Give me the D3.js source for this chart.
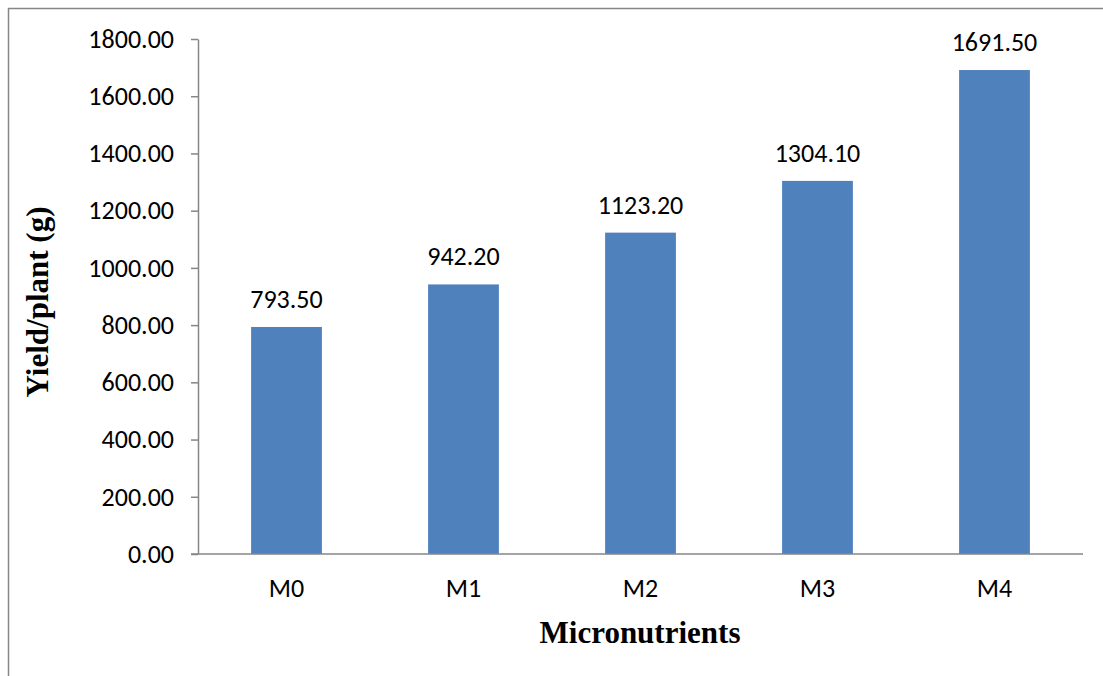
<!DOCTYPE html>
<html>
<head>
<meta charset="utf-8">
<script src="https://cdn.jsdelivr.net/npm/d3@7"></script>
<style>
  html, body { margin: 0; padding: 0; background: #fff; }
  svg { display: block; }
</style>
</head>
<body>
<svg id="chart" width="1103" height="676"></svg>
<script>
// Yield per plant for each micronutrient treatment
const categories = ["M0", "M1", "M2", "M3", "M4"];
const yieldValues = [793.50, 942.20, 1123.20, 1304.10, 1691.50];
const yTicks = [0, 200, 400, 600, 800, 1000, 1200, 1400, 1600, 1800];

const svg = d3.select("#chart");
const W = 1103, H = 676;
const plot = { left: 198, right: 1083, top: 39, bottom: 554 };
const labelFont = "Carlito, Calibri, Lato, 'Open Sans', sans-serif";
const titleFont = "'Liberation Serif', 'Times New Roman', serif";
const axisGrey = "#868686";
const fmt = d3.format(".2f");

// outer chart frame
svg.append("rect")
  .attr("x", 8.5).attr("y", 8.5)
  .attr("width", W + 20).attr("height", H + 20)
  .attr("fill", "none").attr("stroke", axisGrey).attr("stroke-width", 1.5);

const x = d3.scaleBand()
  .domain(categories)
  .range([plot.left, plot.right])
  .paddingInner(0.6)
  .paddingOuter(0.3);

const y = d3.scaleLinear()
  .domain([0, 1800])
  .range([plot.bottom, plot.top]);

// bars
svg.append("g").selectAll("rect")
  .data(categories)
  .join("rect")
  .attr("x", d => x(d))
  .attr("width", x.bandwidth())
  .attr("y", (d, i) => y(yieldValues[i]))
  .attr("height", (d, i) => y(0) - y(yieldValues[i]))
  .attr("fill", "#4F81BD");

// y axis
const yAxis = svg.append("g")
  .attr("transform", `translate(${plot.left},0)`)
  .call(d3.axisLeft(y).tickValues(yTicks).tickSize(7).tickSizeOuter(0).tickPadding(17)
    .tickFormat(fmt));
yAxis.select(".domain").attr("stroke", axisGrey).attr("stroke-width", 1.5);
yAxis.selectAll(".tick line").attr("stroke", axisGrey).attr("stroke-width", 1.5);
yAxis.selectAll(".tick text")
  .attr("font-family", labelFont).attr("font-size", 26).attr("fill", "#000");

// x axis baseline
const xAxis = svg.append("g")
  .attr("transform", `translate(0,${plot.bottom})`)
  .call(d3.axisBottom(x).tickSize(0).tickSizeOuter(0).tickPadding(25));
xAxis.select(".domain").attr("stroke", axisGrey).attr("stroke-width", 1.5)
  .attr("d", `M${plot.left - 7},0H${plot.right}`);
xAxis.selectAll(".tick text")
  .attr("font-family", labelFont).attr("font-size", 26).attr("fill", "#000");

// value labels above bars
svg.append("g").selectAll("text")
  .data(categories)
  .join("text")
  .attr("x", d => x(d) + x.bandwidth() / 2)
  .attr("y", (d, i) => y(yieldValues[i]) - 19)
  .attr("text-anchor", "middle")
  .attr("font-family", labelFont).attr("font-size", 26)
  .text((d, i) => fmt(yieldValues[i]));

// axis titles
svg.append("text")
  .attr("transform", "translate(48,302) rotate(-90)")
  .attr("text-anchor", "middle")
  .attr("font-family", titleFont)
  .attr("font-weight", "bold").attr("font-size", 31)
  .text("Yield/plant (g)");

svg.append("text")
  .attr("x", 640).attr("y", 643)
  .attr("text-anchor", "middle")
  .attr("font-family", titleFont)
  .attr("font-weight", "bold").attr("font-size", 31)
  .text("Micronutrients");
</script>
</body>
</html>
